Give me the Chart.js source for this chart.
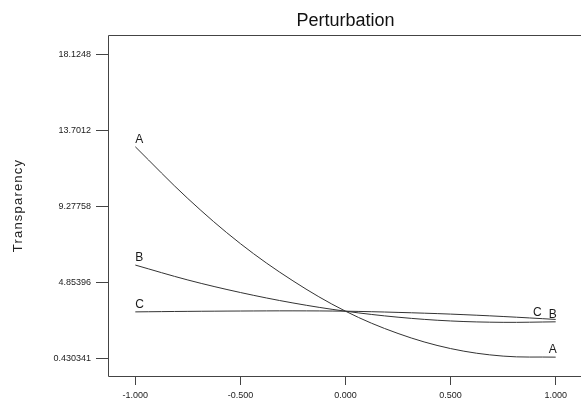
<!DOCTYPE html>
<html lang="en">
<head>
    <meta charset="UTF-8">
    <title>Perturbation</title>
    <script src="https://cdn.jsdelivr.net/npm/chart.js"></script>
    <style>
        html, body { margin: 0; padding: 0; background: #fff; overflow: hidden; }
        #wrap { width: 600px; height: 403px; }
    </style>
</head>
<body>
    <div id="wrap"><canvas id="pertChart"></canvas></div>

    <script>
        // deviation from reference point (coded units)
        const deviation = [-1, -0.75, -0.5, -0.25, 0, 0.25, 0.5, 0.75, 1];
        // values
        const factorA = [12.77, 9.75, 7.12, 4.95, 3.18, 1.88, 1.0, 0.56, 0.50];
        const factorB = [5.87, 5.0, 4.27, 3.66, 3.18, 2.83, 2.61, 2.53, 2.56];
        const factorC = [3.14, 3.17, 3.19, 3.20, 3.18, 3.11, 3.01, 2.87, 2.70];

        const xTicks = [-1, -0.5, 0, 0.5, 1];
        const yTicks = [0.430341, 4.85396, 9.27758, 13.7012, 18.1248];
        const yTickLabels = ['0.430341', '4.85396', '9.27758', '13.7012', '18.1248'];
        const yTitle = 'Transparency';

        const lineColor = '#333';
        const axisColor = '#444';
        const fontFamily = '"Liberation Sans", Arial, sans-serif';

        function series(label, values, endShift) {
            return {
                label: label,
                data: deviation.map((x, i) => ({ x: x, y: values[i] })),
                borderColor: lineColor,
                borderWidth: 1,
                pointRadius: 0,
                tension: 0.35,
                fill: false,
                endShift: endShift
            };
        }

        // frame (top/left/bottom; right side runs off the picture), axis title, A/B/C tags
        const decorations = {
            id: 'decorations',
            afterDatasetsDraw(chart) {
                const { ctx, chartArea } = chart;
                const l = Math.round(chartArea.left) + 0.5;
                const t = Math.round(chartArea.top) + 0.5;
                const b = Math.round(chartArea.bottom) + 0.5;
                const r = chart.width;
                ctx.save();
                ctx.strokeStyle = axisColor;
                ctx.lineWidth = 1;
                ctx.beginPath();
                ctx.moveTo(r, t);
                ctx.lineTo(l, t);
                ctx.lineTo(l, b);
                ctx.lineTo(r, b);
                ctx.stroke();

                // y axis title
                ctx.save();
                ctx.translate(18, (chartArea.top + chartArea.bottom) / 2);
                ctx.rotate(-Math.PI / 2);
                ctx.fillStyle = '#222';
                ctx.font = '13px ' + fontFamily;
                ctx.letterSpacing = '1.2px';
                ctx.textAlign = 'center';
                ctx.textBaseline = 'middle';
                ctx.fillText(yTitle, 0, 0);
                ctx.restore();

                ctx.fillStyle = '#1a1a1a';
                ctx.font = '12px ' + fontFamily;
                ctx.textBaseline = 'bottom';
                chart.data.datasets.forEach((ds, i) => {
                    const pts = chart.getDatasetMeta(i).data;
                    const first = pts[0], last = pts[pts.length - 1];
                    ctx.textAlign = 'left';
                    ctx.fillText(ds.label, first.x, first.y - 1);
                    ctx.textAlign = 'right';
                    ctx.fillText(ds.label, last.x + 1 + ds.endShift, last.y - 1);
                });
                ctx.restore();
            }
        };

        const ctx = document.getElementById('pertChart').getContext('2d');
        const pertChart = new Chart(ctx, {
            type: 'line',
            data: {
                datasets: [
                    series('A', factorA, 0),
                    series('B', factorB, 0),
                    series('C', factorC, -15)
                ]
            },
            options: {
                responsive: true,
                maintainAspectRatio: false,
                animation: false,
                layout: { padding: { left: 0, right: 17, top: 0, bottom: 0 } },
                plugins: {
                    legend: { display: false },
                    tooltip: { enabled: false },
                    title: {
                        display: true,
                        text: 'Perturbation',
                        fullSize: false,
                        color: '#111',
                        font: { family: fontFamily, size: 18, weight: 'normal' },
                        padding: { top: 10, bottom: 3.4 }
                    }
                },
                scales: {
                    x: {
                        type: 'linear',
                        min: -1.13,
                        max: 1.13,
                        afterBuildTicks: scale => { scale.ticks = xTicks.map(v => ({ value: v })); },
                        afterFit: scale => { scale.height = 27; },
                        border: { display: false },
                        grid: { drawOnChartArea: false, drawTicks: true, tickLength: 9, color: axisColor },
                        ticks: {
                            color: '#222',
                            padding: 5,
                            maxRotation: 0,
                            font: { family: fontFamily, size: 9 },
                            callback: v => v.toFixed(3)
                        }
                    },
                    y: {
                        type: 'linear',
                        min: -0.60,
                        max: 19.29,
                        afterBuildTicks: scale => { scale.ticks = yTicks.map(v => ({ value: v })); },
                        afterFit: scale => { scale.width = 108; },
                        border: { display: false },
                        grid: { drawOnChartArea: false, drawTicks: true, tickLength: 12, color: axisColor },
                        ticks: {
                            color: '#222',
                            padding: 5,
                            font: { family: fontFamily, size: 9 },
                            callback: (v, i) => yTickLabels[i]
                        }
                    }
                }
            },
            plugins: [decorations]
        });
    </script>
</body>
</html>
